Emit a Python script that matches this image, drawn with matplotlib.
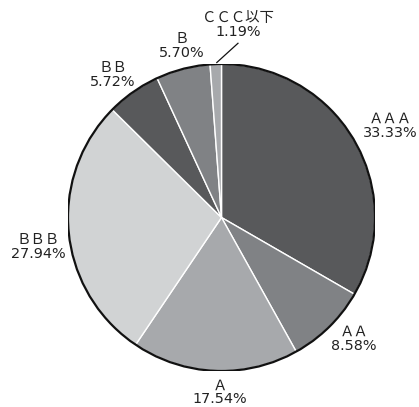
import numpy as np
import matplotlib.pyplot as plt
from matplotlib.patches import Circle

plt.rcParams['font.family'] = ['DejaVu Sans', 'Noto Sans CJK JP']

ratings = ['ＡＡＡ', 'ＡＡ', 'Ａ', 'ＢＢＢ', 'ＢＢ', 'Ｂ', 'ＣＣＣ以下']
shares = [33.33, 8.58, 17.54, 27.94, 5.72, 5.70, 1.19]
colors = ['#58595b', '#808285', '#a7a9ac', '#d1d3d4', '#58595b', '#808285', '#a7a9ac']

# label placement: radius (in pie radii) and angle nudge (deg) per wedge
label_r = [1.25, 1.17, 1.14, 1.21, 1.17, 1.15, 1.26]
label_da = [-1.4, 2.8, 1.9, 3.3, 2.3, -1.5, -7.0]

fig = plt.figure(figsize=(4.19, 4.07), dpi=100)
ax = fig.add_axes([68 / 419, 36 / 407, 307 / 419, 307 / 407])

wedges, _ = ax.pie(shares, colors=colors, startangle=90, counterclock=False,
                   wedgeprops=dict(edgecolor='white', linewidth=1.0))
ax.add_patch(Circle((0, 0), 1.0, fill=False, edgecolor='#111111', linewidth=1.6))

for w, name, val, r, da in zip(wedges, ratings, shares, label_r, label_da):
    mid = np.deg2rad((w.theta1 + w.theta2) / 2 + da)
    ax.text(r * np.cos(mid), r * np.sin(mid), f'{name}\n{val:.2f}%',
            ha='center', va='center', fontsize=10.4, linespacing=1.0,
            color='#222222')

# leader line for the smallest slice
w = wedges[-1]
a0 = np.deg2rad((w.theta1 + w.theta2) / 2 - 0.4)
a1 = np.deg2rad(84.6)
ax.plot([1.01 * np.cos(a0), 1.14 * np.cos(a1)], [1.01 * np.sin(a0), 1.14 * np.sin(a1)],
        color='#111111', lw=0.9, clip_on=False)

ax.set_xlim(-1, 1)
ax.set_ylim(-1, 1)
ax.set_aspect('equal')
ax.axis('off')

fig.savefig('out.png', dpi=100)
